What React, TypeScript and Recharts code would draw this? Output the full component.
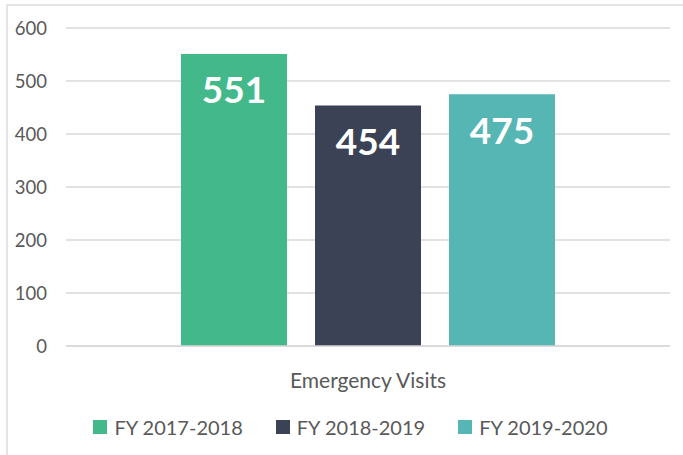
import React from 'react';
import { BarChart, Bar, XAxis, YAxis, CartesianGrid, Legend, LabelList } from 'recharts';

const categories = ['Emergency Visits'];
const seriesNames = ['FY 2017-2018', 'FY 2018-2019', 'FY 2019-2020'];
const seriesValues = [551, 454, 475];
const yTicks = [0, 100, 200, 300, 400, 500, 600];

const COLORS = ['#43B98B', '#3B4256', '#56B6B4'];
const FONT = 'Lato, "Open Sans", sans-serif';

const data = categories.map((name) => {
  const row: { [key: string]: any } = { name };
  seriesNames.forEach((s, i) => {
    row[s] = seriesValues[i];
  });
  return row;
});

const LegendContent = () => (
  <div style={{ display: 'flex', justifyContent: 'center', gap: 33, fontFamily: FONT, fontSize: 20, color: '#595959', paddingLeft: 31, paddingTop: 9 }}>
    {seriesNames.map((s, i) => (
      <div key={s} style={{ display: 'flex', alignItems: 'center' }}>
        <span style={{ width: 14, height: 14, background: COLORS[i], display: 'inline-block', marginRight: 7 }} />
        <span>{s}</span>
      </div>
    ))}
  </div>
);

export default function App() {
  return (
    <div style={{ position: 'absolute', left: 0, top: 0, width: 683, height: 455, background: '#fff' }}>
      <div style={{ position: 'absolute', left: 6, top: 4, right: 0, bottom: 0, borderLeft: '2px solid #e3e3e3', borderTop: '2px solid #e3e3e3' }} />
      <BarChart
        width={683}
        height={455}
        data={data}
        margin={{ top: 28, right: 13, bottom: 9, left: 0 }}
        barGap={28}
        barCategoryGap="19%"
      >
        <CartesianGrid vertical={false} stroke="#d9d9d9" strokeWidth={1.5} />
        <XAxis
          dataKey="name"
          height={60}
          tickLine={false}
          axisLine={{ stroke: '#d9d9d9', strokeWidth: 1.5 }}
          tickSize={0}
          tickMargin={27}
          tick={{ fill: '#595959', fontSize: 21, fontFamily: FONT }}
        />
        <YAxis
          width={66}
          domain={[0, 600]}
          ticks={yTicks}
          axisLine={false}
          tickLine={false}
          tickSize={0}
          tickMargin={19}
          tick={{ fill: '#595959', fontSize: 18.5, fontFamily: FONT }}
        />
        <Legend verticalAlign="bottom" height={40} content={<LegendContent />} />
        {seriesNames.map((s, i) => (
          <Bar key={s} dataKey={s} fill={COLORS[i]} barSize={106} isAnimationActive={false}>
            <LabelList
              dataKey={s}
              position="insideTop"
              offset={23}
              fill="#ffffff"
              style={{ fontSize: 37, fontWeight: 700, fontFamily: FONT }}
            />
          </Bar>
        ))}
      </BarChart>
    </div>
  );
}
